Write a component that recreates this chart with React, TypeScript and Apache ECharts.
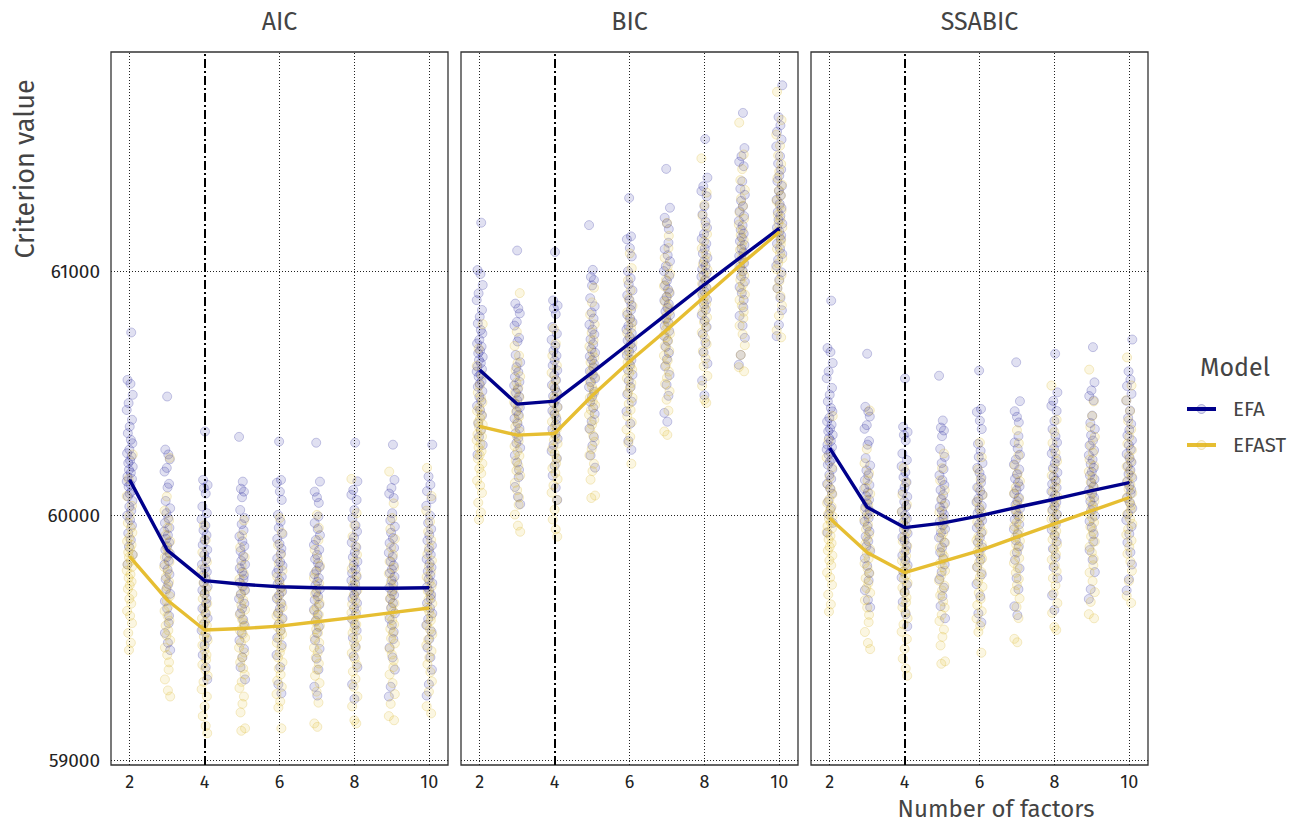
import React, { useEffect, useRef } from "react";
import * as echarts from "echarts";

const factors = [2, 3, 4, 5, 6, 7, 8, 9, 10];
const panels = ["AIC", "BIC", "SSABIC"];
const models = ["EFA", "EFAST"];
const yTicks = [59000, 60000, 61000];
const xTicks = [2, 4, 6, 8, 10];

// Mean criterion values per panel (lines)
const efaMeanAIC = [60146, 59859, 59734, 59719, 59709, 59705, 59703, 59703, 59705];
const efastMeanAIC = [59832, 59655, 59532, 59538, 59548, 59566, 59584, 59603, 59622];
const efaMeanBIC = [60595, 60456, 60468, 60585, 60705, 60825, 60945, 61060, 61175];
const efastMeanBIC = [60365, 60329, 60336, 60490, 60630, 60760, 60895, 61030, 61160];
const efaMeanSSABIC = [60276, 60034, 59951, 59969, 59999, 60034, 60067, 60102, 60135];
const efastMeanSSABIC = [59989, 59849, 59767, 59812, 59857, 59912, 59966, 60020, 60074];

// Replication values (AIC scale) per number of factors
const efaPointsAIC = [
  [60749, 60555, 60539, 60494, 60460, 60432, 60392, 60364, 60337, 60310, 60296, 60270, 60255, 60242, 60225, 60215, 60200, 60187, 60175, 60160, 60150, 60140, 60128, 60119, 60100, 60090, 60078, 60060, 60037, 60020, 60000, 59982, 59960, 59928, 59900, 59873, 59840, 59800],
  [60487, 60270, 60250, 60230, 60195, 60180, 60130, 60115, 60060, 60030, 60010, 59990, 59970, 59950, 59935, 59920, 59905, 59890, 59875, 59860, 59845, 59830, 59815, 59800, 59780, 59760, 59740, 59720, 59700, 59680, 59650, 59620, 59590, 59560, 59520, 59480, 59450],
  [60344, 60146, 60125, 60113, 60090, 60037, 60010, 59985, 59960, 59940, 59920, 59900, 59880, 59860, 59840, 59820, 59800, 59785, 59770, 59755, 59740, 59725, 59710, 59695, 59680, 59660, 59640, 59620, 59600, 59580, 59555, 59530, 59500, 59470, 59430, 59380, 59330],
  [60322, 60139, 60110, 60098, 60075, 60023, 59990, 59965, 59940, 59915, 59895, 59875, 59855, 59835, 59815, 59800, 59785, 59770, 59755, 59740, 59725, 59710, 59695, 59680, 59660, 59640, 59620, 59600, 59575, 59550, 59520, 59490, 59455, 59420, 59380, 59330],
  [60303, 60146, 60134, 60098, 60064, 60003, 59975, 59950, 59925, 59905, 59885, 59865, 59845, 59825, 59810, 59795, 59780, 59765, 59750, 59735, 59720, 59705, 59690, 59675, 59660, 59640, 59620, 59600, 59580, 59555, 59530, 59500, 59470, 59430, 59380, 59310, 59273],
  [60298, 60139, 60098, 60075, 60052, 59996, 59970, 59945, 59920, 59900, 59880, 59860, 59840, 59822, 59805, 59790, 59775, 59760, 59745, 59730, 59715, 59700, 59685, 59670, 59655, 59635, 59615, 59595, 59570, 59545, 59520, 59490, 59455, 59415, 59370, 59300, 59264],
  [60298, 60140, 60105, 60085, 60064, 60023, 59990, 59960, 59935, 59910, 59890, 59870, 59850, 59830, 59812, 59795, 59780, 59765, 59750, 59735, 59720, 59705, 59690, 59675, 59660, 59642, 59622, 59600, 59578, 59555, 59530, 59500, 59465, 59425, 59380, 59310, 59250],
  [60290, 60146, 60113, 60090, 60072, 60010, 59980, 59955, 59930, 59908, 59888, 59868, 59848, 59830, 59812, 59796, 59780, 59765, 59750, 59735, 59720, 59705, 59690, 59675, 59660, 59642, 59622, 59600, 59578, 59553, 59525, 59495, 59460, 59420, 59370, 59300, 59260],
  [60290, 60160, 60126, 60100, 60068, 60040, 60000, 59970, 59945, 59920, 59898, 59878, 59858, 59840, 59822, 59805, 59788, 59772, 59756, 59740, 59724, 59708, 59692, 59676, 59660, 59642, 59622, 59600, 59577, 59552, 59525, 59495, 59460, 59420, 59370, 59310, 59264],
];

const efastPointsAIC = [
  [60250, 60150, 60080, 60040, 60000, 59970, 59950, 59930, 59910, 59895, 59880, 59865, 59850, 59840, 59830, 59815, 59800, 59790, 59775, 59760, 59745, 59730, 59715, 59700, 59680, 59660, 59640, 59610, 59590, 59560, 59520, 59480, 59450],
  [60236, 60078, 60020, 59980, 59950, 59920, 59895, 59870, 59850, 59830, 59810, 59790, 59770, 59750, 59730, 59710, 59690, 59670, 59650, 59630, 59610, 59590, 59570, 59550, 59530, 59510, 59490, 59460, 59430, 59400, 59370, 59330, 59285, 59260],
  [59960, 59900, 59850, 59810, 59780, 59750, 59725, 59700, 59680, 59660, 59640, 59620, 59600, 59580, 59565, 59550, 59535, 59520, 59505, 59490, 59470, 59450, 59430, 59410, 59390, 59370, 59345, 59320, 59290, 59260, 59220, 59180, 59140, 59110],
  [59980, 59920, 59870, 59830, 59795, 59765, 59740, 59715, 59695, 59675, 59655, 59635, 59615, 59595, 59575, 59560, 59545, 59530, 59515, 59500, 59480, 59460, 59440, 59420, 59400, 59375, 59350, 59320, 59295, 59260, 59230, 59195, 59130, 59120],
  [59990, 59930, 59880, 59840, 59805, 59775, 59750, 59725, 59705, 59685, 59665, 59645, 59625, 59605, 59590, 59575, 59560, 59545, 59530, 59515, 59500, 59480, 59460, 59440, 59420, 59400, 59375, 59350, 59325, 59300, 59270, 59240, 59215, 59130],
  [60003, 59950, 59900, 59860, 59825, 59795, 59770, 59745, 59722, 59700, 59680, 59660, 59642, 59625, 59610, 59595, 59580, 59565, 59550, 59535, 59520, 59500, 59480, 59460, 59440, 59420, 59395, 59370, 59345, 59315, 59280, 59235, 59150, 59136],
  [60150, 60010, 59960, 59915, 59875, 59840, 59810, 59782, 59758, 59735, 59715, 59695, 59675, 59655, 59637, 59620, 59603, 59587, 59571, 59555, 59538, 59520, 59500, 59480, 59460, 59438, 59415, 59390, 59362, 59332, 59300, 59260, 59220, 59163, 59150],
  [60180, 60050, 59990, 59945, 59905, 59870, 59840, 59812, 59787, 59763, 59740, 59720, 59700, 59680, 59660, 59642, 59625, 59608, 59590, 59573, 59555, 59537, 59518, 59498, 59477, 59455, 59432, 59407, 59380, 59350, 59315, 59270, 59230, 59180, 59163],
  [60195, 60080, 60020, 59975, 59935, 59900, 59870, 59842, 59816, 59792, 59770, 59749, 59729, 59710, 59692, 59674, 59657, 59640, 59623, 59606, 59589, 59571, 59553, 59534, 59514, 59493, 59470, 59446, 59420, 59392, 59360, 59322, 59280, 59220, 59191],
];

// Fixed horizontal jitter offsets for the replications
const jitterOffsets = [0.04, -0.06, 0.02, 0.08, -0.03, -0.08, 0.06, 0.0, -0.05, 0.03, 0.07, -0.01, -0.07, 0.05, 0.01, -0.04, 0.08, -0.02, 0.03, -0.06, 0.06, -0.08, 0.02, -0.03, 0.05, 0.0, -0.05, 0.07, -0.01, 0.04, -0.07, 0.01, 0.06, -0.04, 0.03, -0.02, 0.08, -0.06, 0.0, 0.05];

const FONT = "'Fira Sans', 'Noto Sans', sans-serif";
const EFA_COLOR = "#00008B";
const EFAST_COLOR = "#E6BE32";

const App: React.FC = () => {
  const ref = useRef<HTMLDivElement>(null);

  useEffect(() => {
    document.body.style.margin = "0";
    if (!ref.current) return;
    const chart = echarts.init(ref.current, undefined, { renderer: "svg" });

    const means = [
      [efaMeanAIC, efastMeanAIC],
      [efaMeanBIC, efastMeanBIC],
      [efaMeanSSABIC, efastMeanSSABIC],
    ];
    const pointsAIC = [efaPointsAIC, efastPointsAIC];
    const colors = [EFA_COLOR, EFAST_COLOR];
    const fills = ["rgba(0,0,139,0.15)", "rgba(230,190,50,0.18)"];
    const borders = ["rgba(0,0,139,0.26)", "rgba(215,175,35,0.3)"];

    const gridLefts = [111, 461, 811];
    const gridWidth = 337;
    const gridTop = 52;
    const gridHeight = 713;

    const grids = gridLefts.map((l) => ({
      left: l,
      top: gridTop,
      width: gridWidth,
      height: gridHeight,
      show: true,
      borderColor: "#333",
      borderWidth: 1.3,
      backgroundColor: "transparent",
    }));

    const xAxes = panels.map((_, p) => ({
      type: "value",
      gridIndex: p,
      min: 1.5,
      max: 10.5,
      axisLine: { show: false },
      axisTick: { show: false },
      splitLine: { show: false },
      axisLabel: {
        customValues: xTicks,
        formatter: (v: number) => String(v),
        fontFamily: FONT,
        fontSize: 18,
        color: "#222",
        margin: 8,
      },
    }));

    const yAxes = panels.map((_, p) => ({
      type: "value",
      gridIndex: p,
      min: 58980,
      max: 61896,
      axisLine: { show: false },
      axisTick: { show: false },
      splitLine: { show: false },
      axisLabel: {
        show: p === 0,
        customValues: yTicks,
        formatter: (v: number) => String(v),
        fontFamily: FONT,
        fontSize: 19,
        color: "#222",
        margin: 11,
      },
    }));

    const series: any[] = [];
    panels.forEach((_, p) => {
      // reference lines
      series.push({
        type: "line",
        xAxisIndex: p,
        yAxisIndex: p,
        data: [],
        silent: true,
        markLine: {
          silent: true,
          symbol: "none",
          label: { show: false },
          animation: false,
          data: [
            ...xTicks
              .filter((v) => v !== 4)
              .map((v) => ({ xAxis: v, lineStyle: { type: [1, 2], color: "#222", width: 1 } })),
            ...yTicks.map((v) => ({ yAxis: v, lineStyle: { type: [1, 2], color: "#222", width: 1 } })),
            { xAxis: 4, lineStyle: { type: [9, 3, 2, 3], color: "#000", width: 2 } },
          ],
        },
      });
      models.forEach((m, mi) => {
        const data: number[][] = [];
        factors.forEach((f, i) => {
          const shift = means[p][mi][i] - means[0][mi][i];
          pointsAIC[mi][i].forEach((v, j) => {
            data.push([f + jitterOffsets[(j + i * 7 + mi * 3) % jitterOffsets.length], v + shift]);
          });
        });
        series.push({
          type: "scatter",
          name: m,
          xAxisIndex: p,
          yAxisIndex: p,
          symbol: "circle",
          symbolSize: 9,
          data,
          itemStyle: { color: fills[mi], borderColor: borders[mi], borderWidth: 1 },
          silent: true,
          z: 2,
        });
      });
      models.forEach((m, mi) => {
        series.push({
          type: "line",
          name: m,
          xAxisIndex: p,
          yAxisIndex: p,
          data: factors.map((f, i) => [f, means[p][mi][i]]),
          showSymbol: false,
          symbol: "none",
          lineStyle: { color: colors[mi], width: 3.4 },
          itemStyle: { color: colors[mi] },
          z: 5,
        });
      });
    });

    const graphics: any[] = [];
    panels.forEach((name, p) => {
      graphics.push({
        type: "text",
        x: gridLefts[p] + gridWidth / 2,
        y: 22,
        style: {
          text: name,
          fontFamily: FONT,
          fontSize: 25,
          fill: "#444",
          textAlign: "center",
          textVerticalAlign: "middle",
        },
      });
    });
    graphics.push({
      type: "text",
      x: 25,
      y: 169,
      rotation: Math.PI / 2,
      style: {
        text: "Criterion value",
        fontFamily: FONT,
        fontSize: 27,
        fill: "#444",
        textAlign: "center",
        textVerticalAlign: "middle",
      },
    });
    graphics.push({
      type: "text",
      x: 996,
      y: 809,
      style: {
        text: "Number of factors",
        fontFamily: FONT,
        fontSize: 24,
        fill: "#444",
        textAlign: "center",
        textVerticalAlign: "middle",
      },
    });
    graphics.push({
      type: "text",
      x: 1200,
      y: 368,
      style: {
        text: "Model",
        fontFamily: FONT,
        fontSize: 25,
        fill: "#444",
        textAlign: "left",
        textVerticalAlign: "middle",
      },
    });
    models.forEach((m, mi) => {
      const y = 409 + mi * 36;
      graphics.push({
        type: "line",
        shape: { x1: 1187, y1: y, x2: 1216, y2: y },
        style: { stroke: colors[mi], lineWidth: 4 },
      });
      graphics.push({
        type: "circle",
        shape: { cx: 1201.5, cy: y, r: 4.5 },
        style: { fill: fills[mi], stroke: borders[mi] },
      });
      graphics.push({
        type: "text",
        x: 1233,
        y,
        style: {
          text: m,
          fontFamily: FONT,
          fontSize: 20.5,
          fill: "#444",
          textAlign: "left",
          textVerticalAlign: "middle",
        },
      });
    });

    chart.setOption({
      animation: false,
      backgroundColor: "#fff",
      grid: grids,
      xAxis: xAxes,
      yAxis: yAxes,
      series,
      graphic: graphics,
    });

    return () => chart.dispose();
  }, []);

  return <div ref={ref} style={{ width: 1289, height: 823 }} />;
};

export default App;
